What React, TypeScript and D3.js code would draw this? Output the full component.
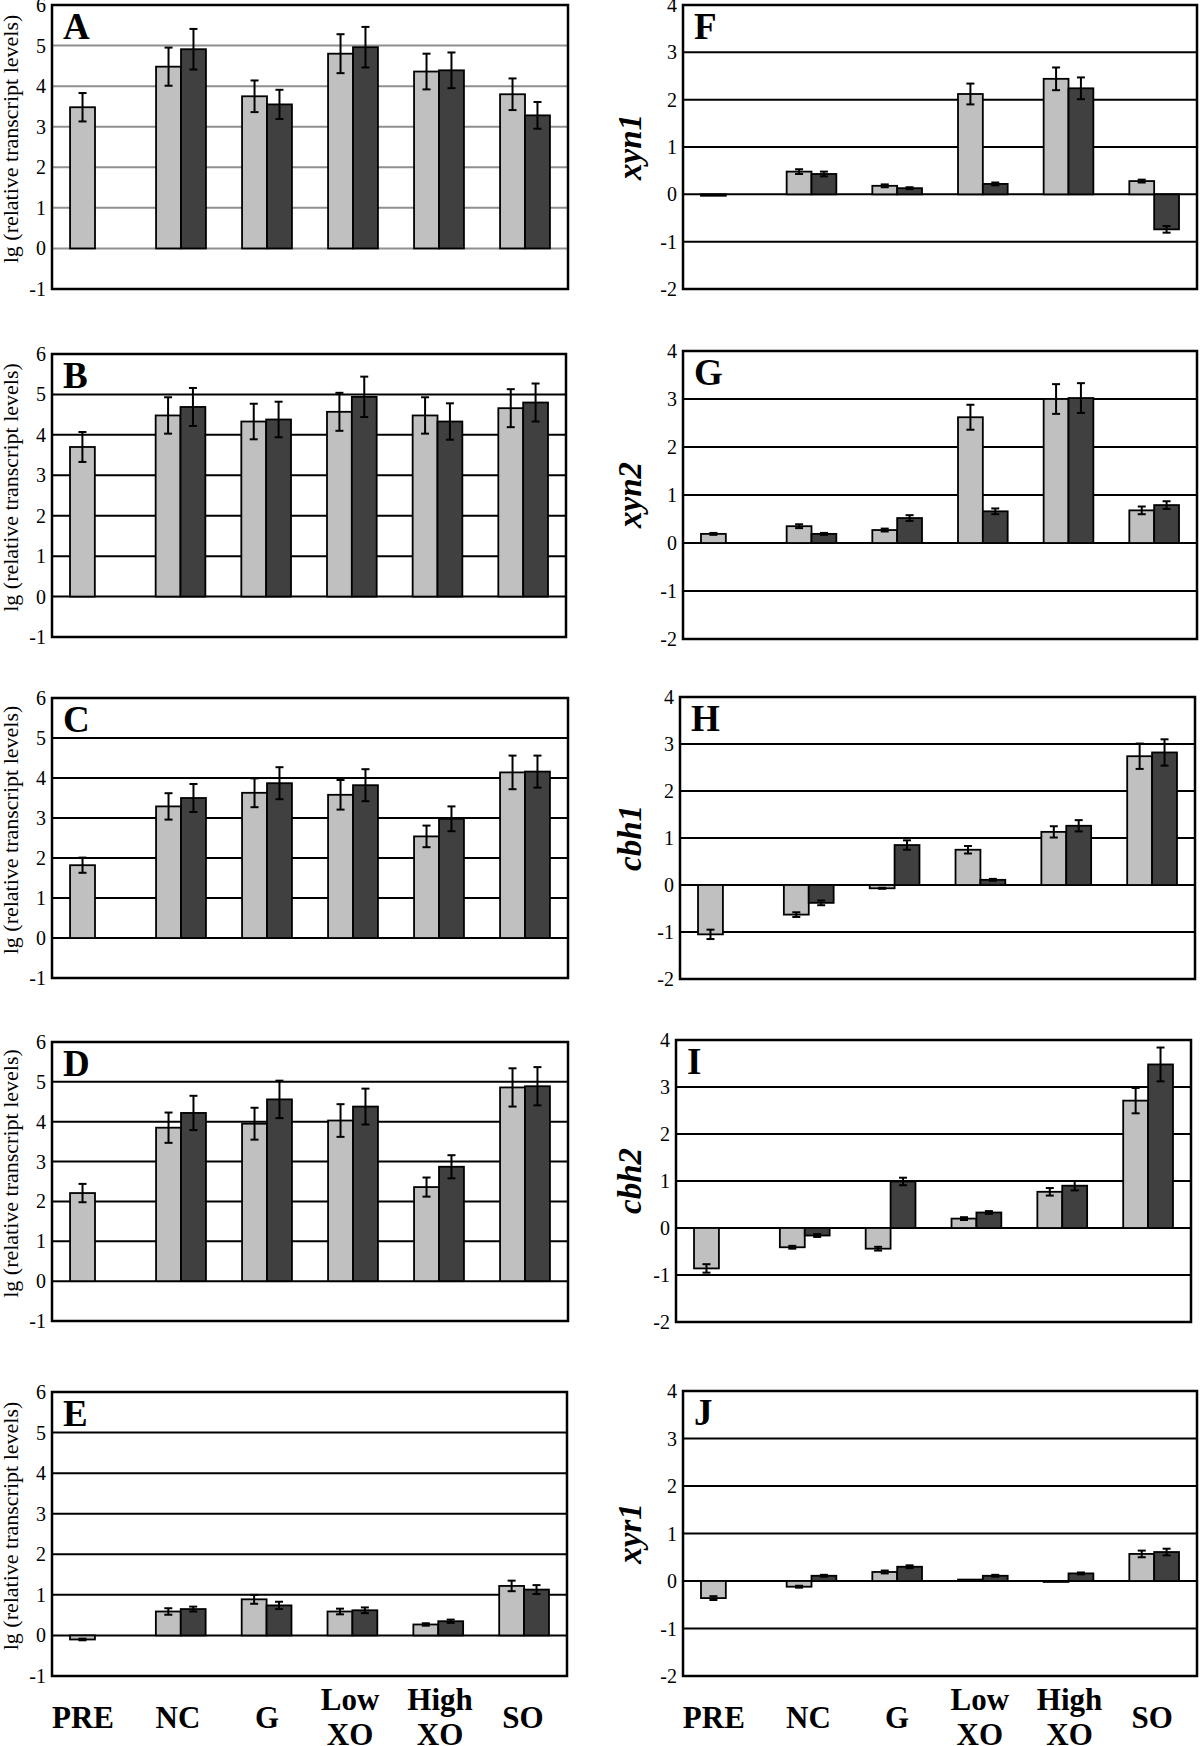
import React from "react";
import * as d3 from "d3";

const categories = ["PRE", "NC", "G", "Low XO", "High XO", "SO"];
const leftTicks = [-1, 0, 1, 2, 3, 4, 5, 6];
const rightTicks = [-2, -1, 0, 1, 2, 3, 4];

// Panel A
const aLight = [3.48, 4.48, 3.75, 4.8, 4.36, 3.8];
const aLightErr = [0.35, 0.47, 0.39, 0.48, 0.44, 0.39];
const aDark = [null, 4.91, 3.55, 4.96, 4.39, 3.28];
const aDarkErr = [null, 0.5, 0.36, 0.5, 0.44, 0.33];
// Panel B
const bLight = [3.7, 4.48, 4.33, 4.57, 4.48, 4.66];
const bLightErr = [0.37, 0.45, 0.44, 0.47, 0.45, 0.47];
const bDark = [null, 4.69, 4.38, 4.94, 4.33, 4.8];
const bDarkErr = [null, 0.47, 0.44, 0.5, 0.45, 0.47];
// Panel C
const cLight = [1.82, 3.29, 3.63, 3.58, 2.54, 4.14];
const cLightErr = [0.19, 0.33, 0.36, 0.37, 0.27, 0.42];
const cDark = [null, 3.5, 3.87, 3.82, 2.98, 4.16];
const cDarkErr = [null, 0.35, 0.4, 0.4, 0.31, 0.4];
// Panel D
const dLight = [2.21, 3.85, 3.95, 4.03, 2.36, 4.86];
const dLightErr = [0.23, 0.38, 0.4, 0.41, 0.24, 0.48];
const dDark = [null, 4.22, 4.56, 4.38, 2.87, 4.89];
const dDarkErr = [null, 0.43, 0.47, 0.45, 0.29, 0.48];
// Panel E
const eLight = [-0.1, 0.59, 0.89, 0.59, 0.27, 1.22];
const eLightErr = [0.02, 0.08, 0.11, 0.07, 0.03, 0.13];
const eDark = [null, 0.65, 0.74, 0.62, 0.35, 1.13];
const eDarkErr = [null, 0.06, 0.09, 0.07, 0.04, 0.11];
// Panel F (xyn1)
const fLight = [-0.03, 0.48, 0.18, 2.12, 2.44, 0.28];
const fLightErr = [0, 0.05, 0.03, 0.22, 0.24, 0.03];
const fDark = [null, 0.43, 0.13, 0.22, 2.24, -0.74];
const fDarkErr = [null, 0.05, 0.02, 0.03, 0.23, 0.07];
// Panel G (xyn2)
const gLight = [0.19, 0.35, 0.27, 2.62, 3.0, 0.68];
const gLightErr = [0.02, 0.04, 0.03, 0.26, 0.31, 0.08];
const gDark = [null, 0.19, 0.52, 0.66, 3.02, 0.79];
const gDarkErr = [null, 0.02, 0.06, 0.06, 0.31, 0.08];
// Panel H (cbh1)
const hLight = [-1.05, -0.63, -0.07, 0.75, 1.13, 2.74];
const hLightErr = [0.1, 0.05, 0.01, 0.08, 0.12, 0.27];
const hDark = [null, -0.38, 0.85, 0.11, 1.26, 2.82];
const hDarkErr = [null, 0.05, 0.1, 0.02, 0.12, 0.28];
// Panel I (cbh2)
const iLight = [-0.86, -0.41, -0.44, 0.2, 0.77, 2.71];
const iLightErr = [0.09, 0.03, 0.04, 0.03, 0.08, 0.27];
const iDark = [null, -0.16, 0.99, 0.33, 0.9, 3.48];
const iDarkErr = [null, 0.03, 0.08, 0.03, 0.1, 0.36];
// Panel J (xyr1)
const jLight = [-0.36, -0.12, 0.19, 0.03, -0.02, 0.57];
const jLightErr = [0.04, 0.02, 0.03, 0, 0, 0.07];
const jDark = [null, 0.11, 0.3, 0.11, 0.16, 0.61];
const jDarkErr = [null, 0.02, 0.03, 0.02, 0.02, 0.07];

const LEFT_TITLE = "lg (relative transcript levels)";
const FONT = "'Liberation Serif', 'Times New Roman', serif";
const LIGHT = "#c0c0c0";
const DARK = "#404040";
// horizontal nudge of category labels (layout only)
const labelNudge = [-12, -3, 0, -3, 1, -2];

const panels = [
  { id: "A", light: aLight, lightErr: aLightErr, dark: aDark, darkErr: aDarkErr, x0: 52, x1: 568, y0: 5, y1: 289, side: "left", grid: "#8f8f8f" },
  { id: "B", light: bLight, lightErr: bLightErr, dark: bDark, darkErr: bDarkErr, x0: 52, x1: 566, y0: 354, y1: 637, side: "left", grid: "#000" },
  { id: "C", light: cLight, lightErr: cLightErr, dark: cDark, darkErr: cDarkErr, x0: 52, x1: 568, y0: 698, y1: 978, side: "left", grid: "#000" },
  { id: "D", light: dLight, lightErr: dLightErr, dark: dDark, darkErr: dDarkErr, x0: 52, x1: 568, y0: 1042, y1: 1321, side: "left", grid: "#000" },
  { id: "E", light: eLight, lightErr: eLightErr, dark: eDark, darkErr: eDarkErr, x0: 52, x1: 567, y0: 1392, y1: 1676, side: "left", grid: "#000" },
  { id: "F", gene: "xyn1", light: fLight, lightErr: fLightErr, dark: fDark, darkErr: fDarkErr, x0: 683, x1: 1197, y0: 5, y1: 289, side: "right", grid: "#000" },
  { id: "G", gene: "xyn2", light: gLight, lightErr: gLightErr, dark: gDark, darkErr: gDarkErr, x0: 683, x1: 1197, y0: 351, y1: 639, side: "right", grid: "#000" },
  { id: "H", gene: "cbh1", light: hLight, lightErr: hLightErr, dark: hDark, darkErr: hDarkErr, x0: 680, x1: 1195, y0: 697, y1: 979, side: "right", grid: "#000" },
  { id: "I", gene: "cbh2", light: iLight, lightErr: iLightErr, dark: iDark, darkErr: iDarkErr, x0: 676, x1: 1191, y0: 1040, y1: 1322, side: "right", grid: "#000" },
  { id: "J", gene: "xyr1", light: jLight, lightErr: jLightErr, dark: jDark, darkErr: jDarkErr, x0: 683, x1: 1197, y0: 1391, y1: 1676, side: "right", grid: "#000" },
];

function Panel({ p }: { p: any }) {
  const isLeft = p.side === "left";
  const ticks = isLeft ? leftTicks : rightTicks;
  const y = d3.scaleLinear().domain([ticks[0], ticks[ticks.length - 1]]).range([p.y1, p.y0]);
  const x = d3.scaleBand().domain(categories).range([p.x0, p.x1]).padding(0);
  const bw = x.bandwidth() * 0.29;
  const series = [
    { vals: p.light, errs: p.lightErr, fill: LIGHT, off: -bw },
    { vals: p.dark, errs: p.darkErr, fill: DARK, off: 0 },
  ];
  const cy = (p.y0 + p.y1) / 2;
  return (
    <g>
      {ticks.map((t: number) => (
        <line key={"g" + t} x1={p.x0} x2={p.x1} y1={y(t)} y2={y(t)} stroke={p.grid} strokeWidth={2} />
      ))}
      {series.map((s, si) =>
        categories.map((c, i) => {
          const v = s.vals[i];
          if (v === null || v === undefined) return null;
          const cx = (x(c) as number) + x.bandwidth() / 2 + s.off;
          const top = y(Math.max(0, v));
          const bot = y(Math.min(0, v));
          return (
            <rect key={"b" + si + i} x={cx} y={top} width={bw} height={Math.max(bot - top, 0.8)}
              fill={s.fill} stroke="#000" strokeWidth={1.8} />
          );
        })
      )}
      {series.map((s, si) =>
        categories.map((c, i) => {
          const v = s.vals[i];
          const e = s.errs[i];
          if (v === null || v === undefined || !e) return null;
          const mx = (x(c) as number) + x.bandwidth() / 2 + s.off + bw / 2;
          const ya = y(v + e);
          const yb = y(v - e);
          return (
            <g key={"e" + si + i} stroke="#000" strokeWidth={2}>
              <line x1={mx} x2={mx} y1={ya} y2={yb} />
              <line x1={mx - 4} x2={mx + 4} y1={ya} y2={ya} />
              <line x1={mx - 4} x2={mx + 4} y1={yb} y2={yb} />
            </g>
          );
        })
      )}
      <rect x={p.x0} y={p.y0} width={p.x1 - p.x0} height={p.y1 - p.y0} fill="none" stroke="#000" strokeWidth={2.5} />
      {ticks.map((t: number) => (
        <text key={"t" + t} x={p.x0 - 6} y={y(t)} dy="0.35em" textAnchor="end" fontSize={20} fontFamily={FONT}>
          {t}
        </text>
      ))}
      <text x={p.x0 + 11} y={p.y0 + 34} fontSize={37} fontWeight="bold" fontFamily={FONT}>
        {p.id}
      </text>
      {isLeft ? (
        <text transform={`translate(18,${cy - 8}) rotate(-90)`} textAnchor="middle" fontSize={22} fontFamily={FONT}>
          {LEFT_TITLE}
        </text>
      ) : (
        <text transform={`translate(641,${cy}) rotate(-90)`} textAnchor="middle" fontSize={33}
          fontWeight="bold" fontStyle="italic" fontFamily={FONT}>
          {p.gene}
        </text>
      )}
    </g>
  );
}

function XLabels({ x0, x1 }: { x0: number; x1: number }) {
  const xs = d3.scaleBand().domain(categories).range([x0, x1]);
  return (
    <g fontSize={31} fontWeight="bold" fontFamily={FONT} textAnchor="middle">
      {categories.map((c, i) => {
        const parts = c.split(" ");
        const px = (xs(c) as number) + xs.bandwidth() / 2 + labelNudge[i];
        if (parts.length === 1) {
          return <text key={c} x={px} y={1728}>{c}</text>;
        }
        return (
          <text key={c} x={px} y={1710}>
            <tspan x={px}>{parts[0]}</tspan>
            <tspan x={px} dy={35}>{parts[1]}</tspan>
          </text>
        );
      })}
    </g>
  );
}

export default function App() {
  return (
    <svg width={1200} height={1746} style={{ position: "absolute", left: 0, top: 0, background: "#fff" }}>
      <rect x={0} y={0} width={1200} height={1746} fill="#fff" />
      {panels.map((p) => (
        <Panel key={p.id} p={p} />
      ))}
      <XLabels x0={52} x1={568} />
      <XLabels x0={683} x1={1197} />
    </svg>
  );
}
